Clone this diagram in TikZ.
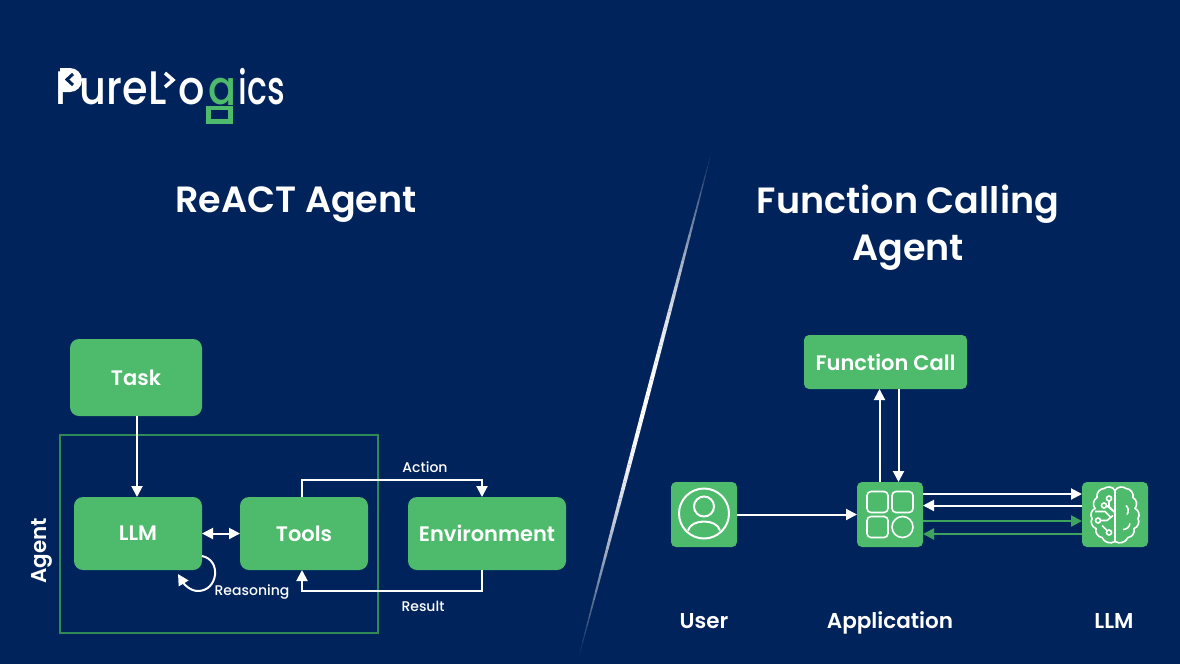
\documentclass[tikz,border=0pt]{standalone}
\usepackage{fontspec}
\setmainfont{Poppins}
\newfontfamily\medfont{Poppins Medium}
\newfontfamily\semifont{Poppins SemiBold}
\usetikzlibrary{positioning,arrows.meta}
\definecolor{navy}{RGB}{1,35,91}
\definecolor{leaf}{RGB}{77,187,107}
\definecolor{moss}{RGB}{46,139,87}
\definecolor{arrowgreen}{RGB}{62,163,95}
\begin{document}
\begin{tikzpicture}[x=1pt,y=-1pt,
    block/.style={rectangle, fill=leaf, rounded corners=9pt, inner sep=0pt, outer sep=0pt, text=white, font=\fontsize{21}{24}\semifont},
    iconblock/.style={rectangle, fill=leaf, rounded corners=5pt, inner sep=0pt, outer sep=0pt, minimum width=66pt, minimum height=65pt},
    title/.style={text=white, font=\fontsize{36.5}{47}\semifont, align=center},
    caption/.style={text=white, font=\fontsize{21.5}{24}\semifont},
    small/.style={text=white, font=\fontsize{14}{16}\medfont},
    logotext/.style={text=white, inner sep=0pt, xscale=0.88, font=\fontsize{47}{50}\medfont},
    flow/.style={draw=white, line width=2pt, -{Triangle[length=11pt,width=11pt]}},
    greenflow/.style={draw=arrowgreen, line width=2.2pt, -{Triangle[length=11pt,width=11pt]}},
    icon/.style={draw=white, line width=2pt}]
    \useasboundingbox (0,0) rectangle (1180,664);
    \fill[navy] (0,0) rectangle (1180,664);

    % Logo
    \node[logotext, anchor=base west] (logo) at (55,104) {PureL\hspace{14pt}o\hspace{4pt}\textcolor{leaf}{g}\hspace{2pt}\scalebox{0.8}[1]{ics}};
    \fill[navy] (195,105) rectangle (237,128);
    \draw[leaf, line width=4.5pt, fill=navy] (208.5,108) rectangle (230.5,121.5);
    \fill[white] (60,68) -- (70,68) arc[start angle=-90, end angle=90, radius=12] -- (60,92) -- cycle;
    \draw[navy, line width=3pt] (73,74) -- (67,79.5) -- (73,85);
    \draw[white, line width=3.5pt] (165,73) -- (173,80) -- (165,87);

    % Divider
    \foreach \t in {0,...,59} {
        \pgfmathsetmacro{\tf}{\t/60}
        \pgfmathsetmacro{\fade}{sin(180*(\t+0.5)/60)}
        \pgfmathsetmacro{\wd}{3.6*\fade+0.5}
        \draw[white, opacity=\fade, line width=\wd pt] (712-134*\tf,150+510*\tf) -- ++(-134/60,510/60);
    }

    % Titles
    \node[title] (reacttitle) at (296,204.5) {ReACT Agent};
    \node[title] (functitle) at (908,228) {Function Calling\\Agent};

    % Agent frame
    \node[rectangle, draw=moss, line width=1.3pt, minimum width=318pt, minimum height=198pt, inner sep=0pt] (agentbox) at (219,534) {};
    \node[caption, rotate=90] (agentlabel) at (42,551) {Agent};

    % LLM
    \node[block, minimum width=128pt, minimum height=73pt] (llm) at (138,533.5) {LLM};

    % Task
    \node[block, minimum width=132pt, minimum height=77pt, above=81pt of llm, xshift=-2pt] (task) {Task};

    % Tools
    \node[block, minimum width=128pt, minimum height=73pt, right=38pt of llm] (tools) {Tools};

    % Environment
    \node[block, minimum width=158pt, minimum height=73pt, right=40pt of tools] (env) {Environment};

    % Application
    \node[iconblock] (app) at (890,514.5) {};

    % User
    \node[iconblock, left=120pt of app] (user) {};

    % Brain
    \node[iconblock, right=159pt of app] (brain) {};

    % Function Call
    \node[block, rounded corners=5pt, minimum width=163pt, minimum height=54pt, above=93pt of app, xshift=-4.5pt] (func) {Function Call};

    % Captions
    \node[caption, anchor=base] (usercap) at (704,628) {User};
    \node[caption, anchor=base] (appcap) at (890,628) {Application};
    \node[caption, anchor=base] (brancap) at (1114,628) {LLM};

    % Connections left
    \draw[flow] ([xshift=1pt]task.south) -- ([xshift=-1pt]llm.north);
    \draw[flow, {Triangle[length=11pt,width=11pt]}-{Triangle[length=11pt,width=11pt]}] (llm) -- (tools);
    \draw[flow] ([xshift=-2pt]tools.north) -- ++(0,-17) -| ([xshift=-5pt]env.north);
    \draw[flow] ([xshift=-5pt]env.south) -- ++(0,20.5) -| ([xshift=-2pt]tools.south);
    \draw[flow] ([yshift=-22.5pt]llm.east) .. controls +(20,4) and +(20,0) .. ([xshift=60pt,yshift=-21pt]llm.south) .. controls +(-8,0) and +(6,10) .. ([xshift=40pt,yshift=-4pt]llm.south);
    \node[small] (action) at (425,467) {Action};
    \node[small] (result) at (423,606) {Result};
    \node[small] (reasoning) at (252,592) {Reasoning};

    % Connections right
    \draw[flow] (user) -- (app);
    \draw[flow] ([xshift=-10.5pt]app.north) -- ([xshift=-10.5pt]app.north |- func.south);
    \draw[flow] ([xshift=8.5pt]app.north |- func.south) -- ([xshift=8.5pt]app.north);
    \draw[flow] ([yshift=20.5pt]app.east) -- ([yshift=20.5pt]brain.west);
    \draw[flow] ([yshift=9pt]brain.west) -- ([yshift=9pt]app.east);
    \draw[greenflow] ([yshift=-6.5pt]app.east) -- ([yshift=-6.5pt]brain.west);
    \draw[greenflow] ([yshift=-19.5pt]brain.west) -- ([yshift=-19.5pt]app.east);

    % User icon
    \begin{scope}[shift={(user.center)}, icon]
        \draw (0,-1) circle (25);
        \draw (0,-8) circle (10);
        \draw (-16,16) .. controls (-13,4) and (13,4) .. (16,16);
    \end{scope}

    % Application icon
    \begin{scope}[shift={(app.center)}, icon, line width=1.6pt, rounded corners=4pt]
        \draw (-23,-23) rectangle (-2,-2);
        \draw (2,-23) rectangle (23,-2);
        \draw (-23,2) rectangle (-2,23);
        \draw (12.5,12.5) circle (10.5);
    \end{scope}

    % Brain icon
    \begin{scope}[shift={(brain.center)}, icon, line width=1.6pt]
        \foreach \side in {1,-1} {
            \draw[xscale=\side] (0,-24) to[bend right=50] (-11,-26) to[bend right=50] (-18,-17) to[bend right=50] (-20,-6) to[bend right=50] (-23,4) to[bend right=50] (-19,14) to[bend right=50] (-13,23) to[bend right=50] (0,27) -- cycle;
        }
        \draw (-6,-16) circle (2.5);
        \draw (-11,-9) circle (2.5);
        \draw (-17,6) circle (2.5);
        \draw (-6,18) circle (2.5);
        \draw (-6,-13.5) -- (-6,-8) -- (-2,-4);
        \draw (-8.5,-9) -- (0,-2);
        \draw (-14.5,6) -- (-8,6) -- (-2,1);
        \draw (-20,-3) -- (-10,-3) -- (-4,3);
        \draw (-8,16) -- (-13,11);
        \draw (11,-9) to[bend left=40] (12,0);
        \draw (8,15) to[bend right=40] (15,9);
    \end{scope}
\end{tikzpicture}
\end{document}
